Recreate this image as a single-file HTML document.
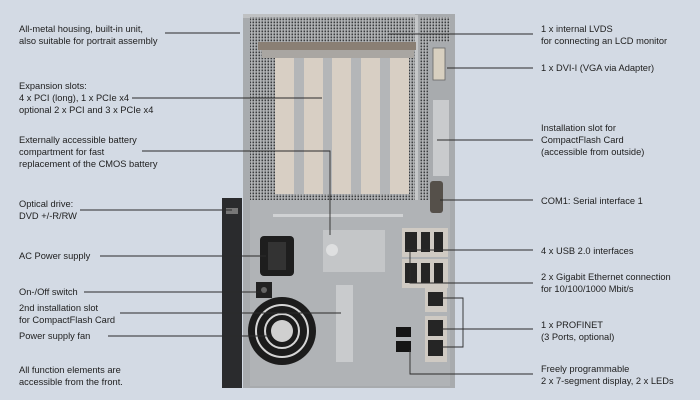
<!DOCTYPE html>
<html><head><meta charset="utf-8"><style>
html,body{margin:0;padding:0;background:#d3dae4;}
svg{display:block}
text{font-family:"Liberation Sans",sans-serif;font-size:9.3px;fill:#1e1e1e}
</style></head><body>
<svg width="700" height="400" viewBox="0 0 700 400" xmlns="http://www.w3.org/2000/svg">
<defs>
<pattern id="perf" width="3" height="3" patternUnits="userSpaceOnUse">
<rect width="3" height="3" fill="#b7b9bb"/><rect x="0.5" y="0.5" width="1.6" height="1.8" fill="#3a3c3e"/>
</pattern>
</defs>
<rect width="700" height="400" fill="#d3dae4"/>
<!-- optical drive -->
<rect x="222" y="198" width="20" height="190" fill="#2a2b2d"/>
<rect x="226" y="208" width="12" height="6" fill="#777"/>
<!-- housing -->
<rect x="243" y="14" width="212" height="374" fill="#a8abae"/>
<rect x="243" y="14" width="172" height="4" fill="#bfc1c3"/>
<rect x="250" y="17" width="166" height="185" fill="url(#perf)"/>
<rect x="420" y="17" width="30" height="25" fill="url(#perf)"/>
<rect x="420" y="42" width="8" height="160" fill="url(#perf)"/>
<rect x="415" y="15" width="3" height="190" fill="#c4c6c8"/>
<!-- bracket bar -->
<rect x="258" y="42" width="158" height="8" fill="#8a7f74"/>
<rect x="262" y="50" width="152" height="8" fill="#a9a6a2"/>
<!-- slots -->
<g fill="#d8cfc4">
<rect x="275" y="58" width="19" height="136"/>
<rect x="304" y="58" width="19" height="136"/>
<rect x="332" y="58" width="19" height="136"/>
<rect x="361" y="58" width="19" height="136"/>
<rect x="390" y="58" width="19" height="136"/>
</g>
<g fill="#b4b6b8">
<rect x="294" y="58" width="10" height="136"/><rect x="323" y="58" width="9" height="136"/>
<rect x="351" y="58" width="10" height="136"/><rect x="380" y="58" width="10" height="136"/>
</g>
<!-- lower plate -->
<rect x="250" y="200" width="200" height="186" fill="#b0b3b6"/>
<g fill="#d0d2d4"><rect x="273" y="214" width="130" height="3"/></g>
<!-- battery plate -->
<rect x="323" y="230" width="62" height="42" fill="#c4c6c8"/>
<circle cx="332" cy="250" r="6" fill="#dedfe0"/>
<!-- right column -->
<rect x="433" y="48" width="12" height="32" fill="#d8d0c0" stroke="#666" stroke-width="0.8"/>
<rect x="433" y="100" width="16" height="76" fill="#c9cbcd"/>
<rect x="430" y="181" width="13" height="32" rx="3" fill="#55504a"/>
<!-- AC socket -->
<rect x="260" y="236" width="34" height="40" rx="4" fill="#1e1e1e"/>
<rect x="268" y="242" width="18" height="28" fill="#333"/>
<!-- switch -->
<rect x="256" y="282" width="16" height="16" fill="#222"/>
<circle cx="264" cy="290" r="3" fill="#666"/>
<!-- fan -->
<circle cx="282" cy="331" r="34" fill="#1c1c1c"/>
<circle cx="282" cy="331" r="26" fill="none" stroke="#d5d5d5" stroke-width="2"/>
<circle cx="282" cy="331" r="17" fill="none" stroke="#d5d5d5" stroke-width="2"/>
<circle cx="282" cy="331" r="11" fill="#d0d0d0"/>
<!-- CF slot 2 -->
<rect x="336" y="285" width="17" height="77" fill="#c9cbcd"/>
<!-- USB blocks -->
<rect x="402" y="228" width="46" height="29" fill="#cfcac3"/>
<rect x="402" y="259" width="46" height="29" fill="#cfcac3"/>
<g fill="#252525">
<rect x="405" y="232" width="12" height="20"/><rect x="421" y="232" width="9" height="20"/><rect x="434" y="232" width="9" height="20"/>
<rect x="405" y="263" width="12" height="20"/><rect x="421" y="263" width="9" height="20"/><rect x="434" y="263" width="9" height="20"/>
</g>
<!-- ethernet -->
<rect x="425" y="288" width="22" height="24" fill="#cfcac3"/>
<rect x="428" y="292" width="15" height="14" fill="#252525"/>
<rect x="425" y="316" width="22" height="46" fill="#cfcac3"/>
<rect x="428" y="320" width="15" height="16" fill="#252525"/>
<rect x="428" y="340" width="15" height="16" fill="#252525"/>
<!-- 7seg -->
<rect x="396" y="327" width="15" height="10" fill="#151515"/>
<rect x="396" y="341" width="15" height="11" fill="#151515"/>
<!-- connector lines -->
<g stroke="#2b2b2b" stroke-width="0.9" fill="none">
<line x1="165" y1="33" x2="240" y2="33"/>
<line x1="132" y1="98" x2="322" y2="98"/>
<polyline points="142,151 330,151 330,235"/>
<line x1="80" y1="210" x2="232" y2="210"/>
<line x1="100" y1="256" x2="266" y2="256"/>
<line x1="84" y1="292" x2="262" y2="292"/>
<line x1="120" y1="313" x2="341" y2="313"/>
<line x1="108" y1="336" x2="270" y2="336"/>
<line x1="388" y1="34" x2="533" y2="34"/>
<line x1="447" y1="68" x2="533" y2="68"/>
<line x1="437" y1="140" x2="533" y2="140"/>
<line x1="440" y1="200" x2="533" y2="200"/>
<line x1="405" y1="250" x2="533" y2="250"/>
<polyline points="410,252 410,283 533,283"/>
<polyline points="440,298 463,298 463,347 440,347"/>
<line x1="440" y1="329" x2="533" y2="329"/>
<polyline points="410,350 410,374 533,374"/>
</g>
<!-- left labels -->
<text x="19" y="32">All-metal housing, built-in unit,</text>
<text x="19" y="44">also suitable for portrait assembly</text>
<text x="19" y="89">Expansion slots:</text>
<text x="19" y="101">4 x PCI (long), 1 x PCIe x4</text>
<text x="19" y="113">optional 2 x PCI and 3 x PCIe x4</text>
<text x="19" y="143">Externally accessible battery</text>
<text x="19" y="155">compartment for fast</text>
<text x="19" y="167">replacement of the CMOS battery</text>
<text x="19" y="207">Optical drive:</text>
<text x="19" y="219">DVD +/-R/RW</text>
<text x="19" y="259">AC Power supply</text>
<text x="19" y="295">On-/Off switch</text>
<text x="19" y="311">2nd installation slot</text>
<text x="19" y="323">for CompactFlash Card</text>
<text x="19" y="339">Power supply fan</text>
<text x="19" y="373">All function elements are</text>
<text x="19" y="385">accessible from the front.</text>
<!-- right labels -->
<text x="541" y="32">1 x internal LVDS</text>
<text x="541" y="44">for connecting an LCD monitor</text>
<text x="541" y="71">1 x DVI-I (VGA via Adapter)</text>
<text x="541" y="131">Installation slot for</text>
<text x="541" y="143">CompactFlash Card</text>
<text x="541" y="155">(accessible from outside)</text>
<text x="541" y="204">COM1: Serial interface 1</text>
<text x="541" y="254">4 x USB 2.0 interfaces</text>
<text x="541" y="280">2 x Gigabit Ethernet connection</text>
<text x="541" y="292">for 10/100/1000 Mbit/s</text>
<text x="541" y="328">1 x PROFINET</text>
<text x="541" y="340">(3 Ports, optional)</text>
<text x="541" y="372">Freely programmable</text>
<text x="541" y="384">2 x 7-segment display, 2 x LEDs</text>
</svg>
</body></html>
